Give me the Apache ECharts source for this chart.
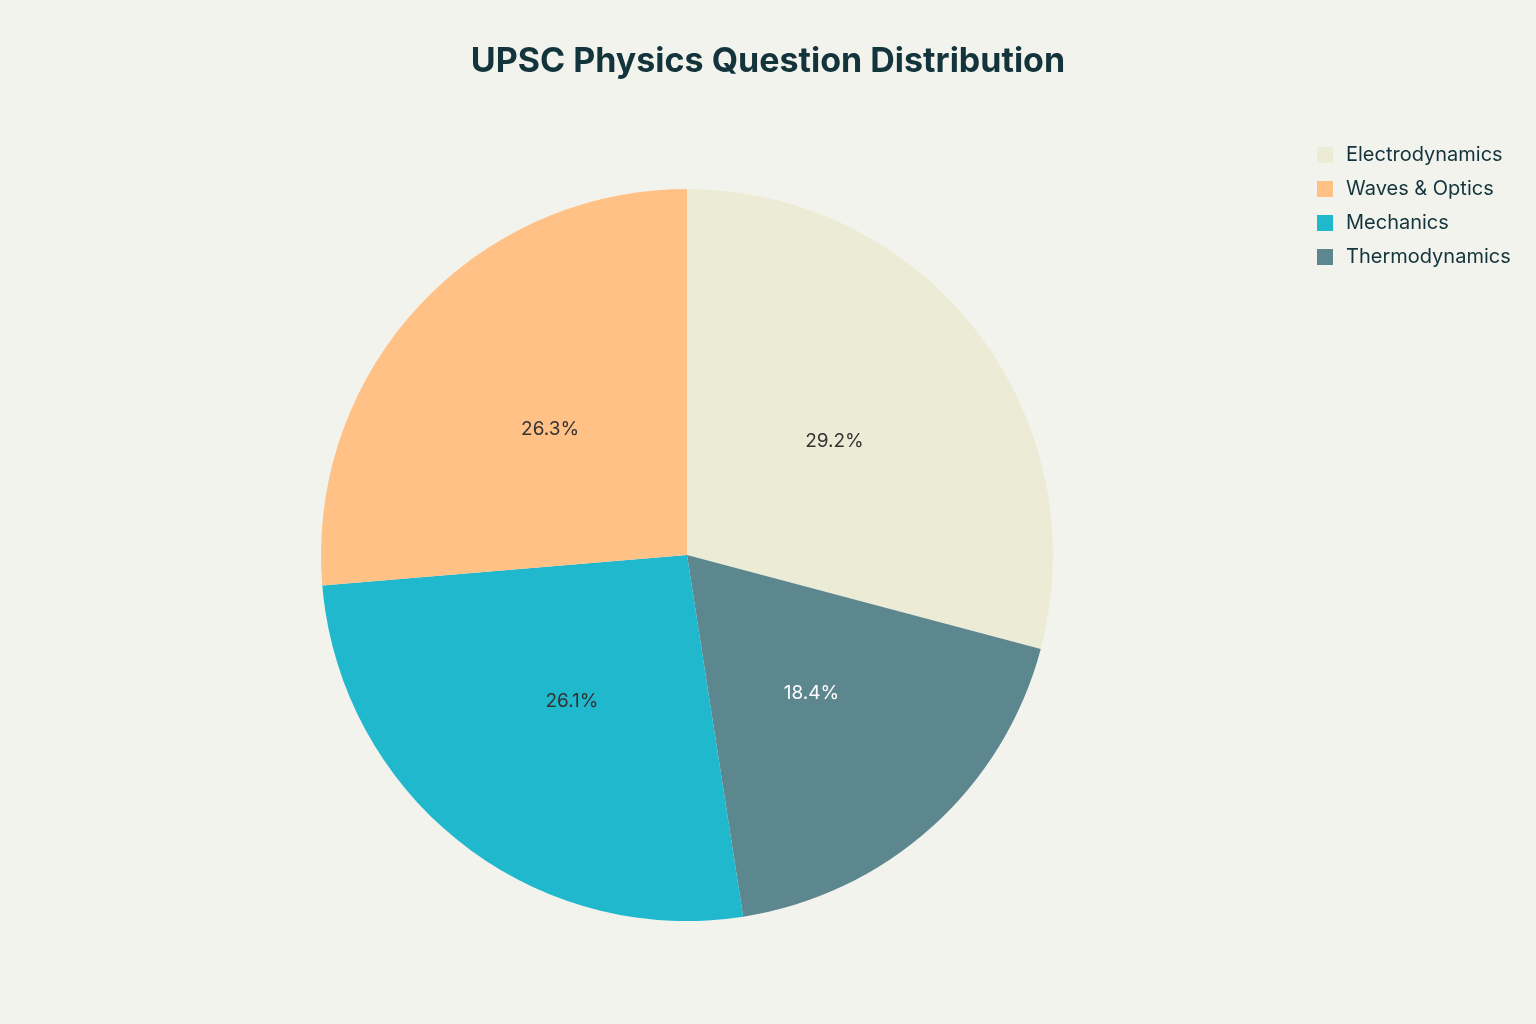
<!DOCTYPE html>
<html><head><meta charset="utf-8">
<script src="https://cdn.jsdelivr.net/npm/echarts@6/dist/echarts.min.js"></script>
<style>html,body{margin:0;padding:0;background:#F3F3EE}#c{width:1536px;height:1024px}</style>
</head><body><div id="c"></div>
<script>
const categories = ["Electrodynamics","Thermodynamics","Mechanics","Waves & Optics"];
const values = [29.1,18.4,26.1,26.3];
const legendOrder = ["Electrodynamics","Waves & Optics","Mechanics","Thermodynamics"];
const colors = {"Electrodynamics":"#ECEBD5","Waves & Optics":"#FFC185","Mechanics":"#1FB8CD","Thermodynamics":"#5D878F"};
const labelColors = {"Electrodynamics":"#333","Waves & Optics":"#333","Mechanics":"#333","Thermodynamics":"#fff"};
const chart = echarts.init(document.getElementById('c'));
chart.setOption({
  backgroundColor:'#F3F3EE',
  title:{text:'UPSC Physics Question Distribution',left:'center',top:40,textStyle:{fontFamily:'Inter',fontSize:34,fontWeight:'bold',color:'#13343B'}},
  legend:{data:legendOrder,orient:'vertical',left:1312,top:140,itemWidth:16,itemHeight:16,itemGap:14,icon:'rect',textStyle:{fontFamily:'Inter',fontSize:20,color:'#13343B',padding:[0,0,0,8]}},
  series:[{type:'pie',center:[687,555],radius:366,startAngle:90,clockwise:true,percentPrecision:1,
    label:{position:'inside',formatter:'{d}%',fontFamily:'Inter',fontSize:19},
    labelLine:{show:false},
    data:categories.map((c,i)=>({name:c,value:values[i],itemStyle:{color:colors[c]},label:{color:labelColors[c]}}))
  }]
});
</script></body></html>
